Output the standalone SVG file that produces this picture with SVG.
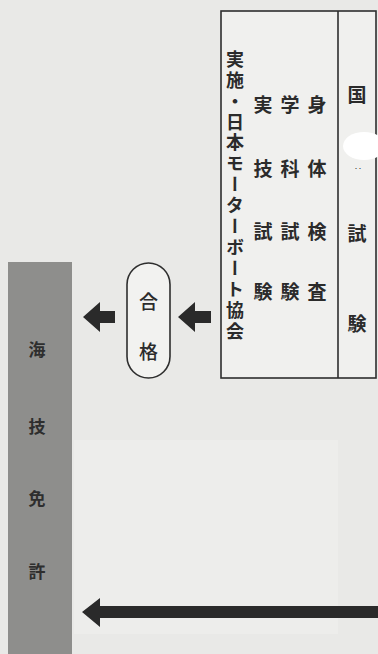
<svg xmlns="http://www.w3.org/2000/svg" width="378" height="654" viewBox="0 0 378 654">
<style>
.t{font-family:"Noto Sans CJK JP","Noto Sans CJK SC",sans-serif;fill:#2b2b2b;text-anchor:middle;dominant-baseline:central;}
.big{font-size:19px;font-weight:700;}
.bar{font-size:17px;font-weight:700;fill:#2e2e2e;}
.box{fill:#f0f0ee;stroke:#2e2e2e;stroke-width:1.6;}
.arr{fill:#2a2a2a;}
</style>
<rect width="378" height="654" fill="#e9e9e7"/>
<rect x="74" y="440" width="264" height="194" fill="#ededeb"/>

<g id="exam-box">
<rect class="box" x="221" y="11" width="155" height="367"/>
<line x1="338" y1="11" x2="338" y2="378" stroke="#2e2e2e" stroke-width="1.6"/>
</g>

<g id="national-exam">
<text class="t big" x="357" y="93">国</text>
<ellipse cx="364" cy="146" rx="21" ry="14" fill="#ffffff"/>
<text class="t" x="358" y="168" style="font-size:8px">‥</text>
<text class="t big" x="357" y="232">試</text>
<text class="t big" x="357" y="322">験</text>
</g>

<g id="organizer">
<text class="t" x="235" y="50" writing-mode="vertical-rl" style="font-size:18px;font-weight:700;letter-spacing:2.9px;text-anchor:start;dominant-baseline:auto">実施・日本モーターボート協会</text>
</g>

<g id="exam-items">
<text class="t big" x="263" y="103">実</text>
<text class="t big" x="263" y="167">技</text>
<text class="t big" x="263" y="230">試</text>
<text class="t big" x="263" y="290">験</text>
<text class="t big" x="290" y="103">学</text>
<text class="t big" x="290" y="167">科</text>
<text class="t big" x="290" y="230">試</text>
<text class="t big" x="290" y="290">験</text>
<text class="t big" x="317" y="103">身</text>
<text class="t big" x="317" y="167">体</text>
<text class="t big" x="317" y="230">検</text>
<text class="t big" x="317" y="290">査</text>
</g>

<g id="pass">
<rect x="127" y="263" width="43" height="115" rx="21.5" fill="#f2f2f0" stroke="#2e2e2e" stroke-width="1.6"/>
<text class="t big" x="148.5" y="300" style="font-weight:500">合</text>
<text class="t big" x="148.5" y="350" style="font-weight:500">格</text>
</g>

<g id="license">
<rect x="8" y="262" width="64" height="392" fill="#8e8e8c"/>
<text class="t bar" x="37" y="348">海</text>
<text class="t bar" x="37" y="425">技</text>
<text class="t bar" x="37" y="497">免</text>
<text class="t bar" x="37" y="570">許</text>
</g>

<g id="connectors">
<polygon class="arr" points="83,317 100,302 100,311 115,311 115,323 100,323 100,332"/>
<polygon class="arr" points="178,317 195,302 195,311 211,311 211,323 195,323 195,332"/>
<polygon class="arr" points="82,612 100,598 100,606 378,606 378,618 100,618 100,627"/>
</g>
</svg>
